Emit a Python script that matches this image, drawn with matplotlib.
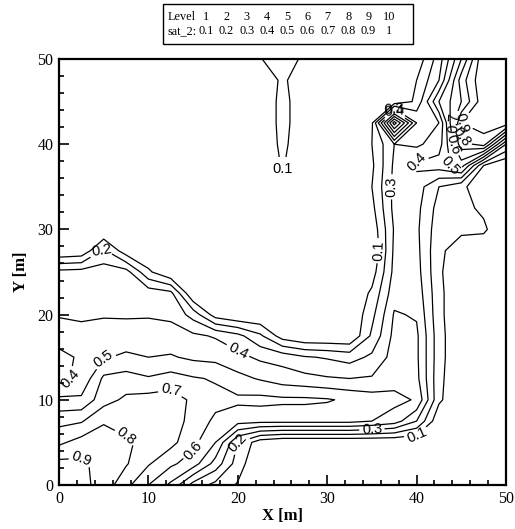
import numpy as np
import matplotlib.pyplot as plt
from matplotlib.patches import Rectangle

# grid (m)
x_m = [0, 2.5, 5, 7.5, 10, 12.5, 15, 17.5, 20, 22.5, 25, 27.5, 30, 32.5, 35, 37.5, 40, 42.5, 45, 47.5, 50]
y_m = [0, 2.5, 5, 7.5, 10, 12.5, 15, 17.5, 20, 22.5, 25, 27.5, 30, 32.5, 35, 37.5, 40, 42.5, 45, 47.5, 50]

# sat_2, rows from y=50 (top) down to y=0
sat_rows = [
    [0, 0, 0, 0, 0, 0, 0, 0, 0, 0.09, 0.20, 0.06, 0, 0, 0, 0, 0.03, 0.25, 0.60, 0.99, 0.99],
    [0, 0, 0, 0, 0, 0, 0, 0, 0, 0.02, 0.12, 0.03, 0, 0, 0, 0, 0.10, 0.30, 0.75, 0.99, 0.99],
    [0, 0, 0, 0, 0, 0, 0, 0, 0, 0, 0.14, 0.02, 0, 0, 0, 0.02, 0.12, 0.50, 0.70, 0.97, 0.99],
    [0, 0, 0, 0, 0, 0, 0, 0, 0, 0, 0.14, 0.02, 0, 0, 0.08, 0.85, 0.30, 0.30, 0.90, 0.95, 0.97],
    [0, 0, 0, 0, 0, 0, 0, 0, 0, 0, 0.13, 0.01, 0, 0, 0.10, 0.30, 0.28, 0.35, 0.75, 0.85, 0.30],
    [0, 0, 0, 0, 0, 0, 0, 0, 0, 0, 0.11, 0, 0, 0, 0.08, 0.32, 0.42, 0.45, 0.55, 0.10, 0],
    [0, 0, 0, 0, 0, 0, 0, 0, 0, 0, 0.05, 0, 0, 0, 0.10, 0.33, 0.35, 0.20, 0.12, 0.04, 0],
    [0, 0, 0, 0, 0, 0, 0, 0, 0, 0, 0, 0, 0, 0, 0.07, 0.33, 0.33, 0.16, 0.13, 0.08, 0],
    [0, 0, 0, 0, 0, 0, 0, 0, 0, 0, 0, 0, 0, 0, 0.03, 0.31, 0.32, 0.14, 0.12, 0.12, 0],
    [0, 0.02, 0.22, 0.04, 0, 0, 0, 0, 0, 0, 0, 0, 0, 0, 0, 0.32, 0.33, 0.12, 0.05, 0.02, 0],
    [0.33, 0.34, 0.35, 0.34, 0.12, 0, 0, 0, 0, 0, 0, 0, 0, 0, 0.05, 0.33, 0.34, 0.12, 0, 0, 0],
    [0.37, 0.36, 0.37, 0.36, 0.36, 0.33, 0, 0, 0, 0, 0, 0, 0, 0, 0.12, 0.36, 0.36, 0.13, 0, 0, 0],
    [0.395, 0.38, 0.39, 0.39, 0.39, 0.38, 0.26, 0.05, 0, 0, 0, 0, 0, 0, 0.17, 0.41, 0.39, 0.13, 0, 0, 0],
    [0.43, 0.44, 0.45, 0.44, 0.45, 0.44, 0.42, 0.39, 0.33, 0.22, 0.05, 0, 0, 0, 0.22, 0.43, 0.42, 0.14, 0, 0, 0],
    [0.38, 0.41, 0.49, 0.52, 0.50, 0.51, 0.48, 0.47, 0.43, 0.38, 0.36, 0.31, 0.29, 0.26, 0.32, 0.44, 0.42, 0.14, 0, 0, 0],
    [0.38, 0.42, 0.62, 0.64, 0.61, 0.64, 0.61, 0.59, 0.53, 0.49, 0.45, 0.43, 0.41, 0.40, 0.41, 0.46, 0.43, 0.13, 0, 0, 0],
    [0.52, 0.52, 0.66, 0.72, 0.74, 0.75, 0.68, 0.63, 0.62, 0.63, 0.62, 0.62, 0.61, 0.58, 0.55, 0.53, 0.49, 0.12, 0, 0, 0],
    [0.67, 0.69, 0.79, 0.75, 0.77, 0.76, 0.66, 0.58, 0.54, 0.53, 0.53, 0.53, 0.53, 0.53, 0.50, 0.45, 0.30, 0.02, 0, 0, 0],
    [0.78, 0.84, 0.85, 0.82, 0.76, 0.73, 0.63, 0.50, 0.20, 0.04, 0, 0, 0, 0, 0, 0, 0, 0, 0, 0, 0],
    [0.93, 0.92, 0.86, 0.81, 0.71, 0.62, 0.55, 0.36, 0.15, 0, 0, 0, 0, 0, 0, 0, 0, 0, 0, 0, 0],
    [0.95, 0.93, 0.86, 0.73, 0.60, 0.48, 0.26, 0.17, 0.09, 0, 0, 0, 0, 0, 0, 0, 0, 0, 0, 0, 0],
]

level_ids = [1, 2, 3, 4, 5, 6, 7, 8, 9, 10]
level_vals = [0.1, 0.2, 0.3, 0.4, 0.5, 0.6, 0.7, 0.8, 0.9, 1.0]
level_txt = ['0.1', '0.2', '0.3', '0.4', '0.5', '0.6', '0.7', '0.8', '0.9', '1']

serif = 'Liberation Serif'
sans = 'Liberation Sans'

X, Y = np.meshgrid(x_m, y_m)
Z = np.flipud(np.array(sat_rows))

W, H = 515, 529
fig = plt.figure(figsize=(W / 100, H / 100), dpi=100)
ax = fig.add_axes([59 / W, 44 / H, 447 / W, 426 / H])

cs = ax.contour(X, Y, Z, levels=level_vals, colors='black', linewidths=0.9)
lbl = ax.clabel(cs, inline=True, fontsize=10.5, fmt='%g', inline_spacing=1)
for t in lbl:
    t.set_fontfamily(sans)

ax.set_xlim(0, 50)
ax.set_ylim(0, 50)
ax.set_xticks([0, 10, 20, 30, 40, 50])
ax.set_yticks([0, 10, 20, 30, 40, 50])
ax.set_xticks(np.arange(0, 51, 2), minor=True)
ax.set_yticks(np.arange(0, 51, 2), minor=True)
ax.tick_params(which='both', direction='in', top=False, right=False, width=1.2)
ax.tick_params(which='major', length=7, labelsize=11.5, pad=4)
ax.tick_params(which='minor', length=3.5)
for lab in ax.get_xticklabels() + ax.get_yticklabels():
    lab.set_fontfamily(serif)
for s in ax.spines.values():
    s.set_linewidth(1.6)

ax.set_xlabel('X [m]', fontfamily=serif, fontweight='bold', fontsize=12, labelpad=1)
ax.set_ylabel('Y [m]', fontfamily=serif, fontweight='bold', fontsize=12, labelpad=6)

# level legend box at top
fig.patches.append(Rectangle((163 / W, 1 - 44 / H), 250 / W, 40 / H, transform=fig.transFigure,
                             fill=False, edgecolor='black', linewidth=1.0))
fig.text(196 / W, 1 - 17 / H, 'Level', ha='right', va='center', fontsize=8.8, fontfamily=serif)
fig.text(197 / W, 1 - 31 / H, 'sat_2:', ha='right', va='center', fontsize=8.8, fontfamily=serif)
for i, (lid, lv) in enumerate(zip(level_ids, level_txt)):
    cx = (206 + i * 20.3) / W
    fig.text(cx, 1 - 17 / H, str(lid), ha='center', va='center', fontsize=8.8, fontfamily=serif)
    fig.text(cx, 1 - 31 / H, lv, ha='center', va='center', fontsize=8.8, fontfamily=serif)

fig.savefig('out.png', dpi=100)
